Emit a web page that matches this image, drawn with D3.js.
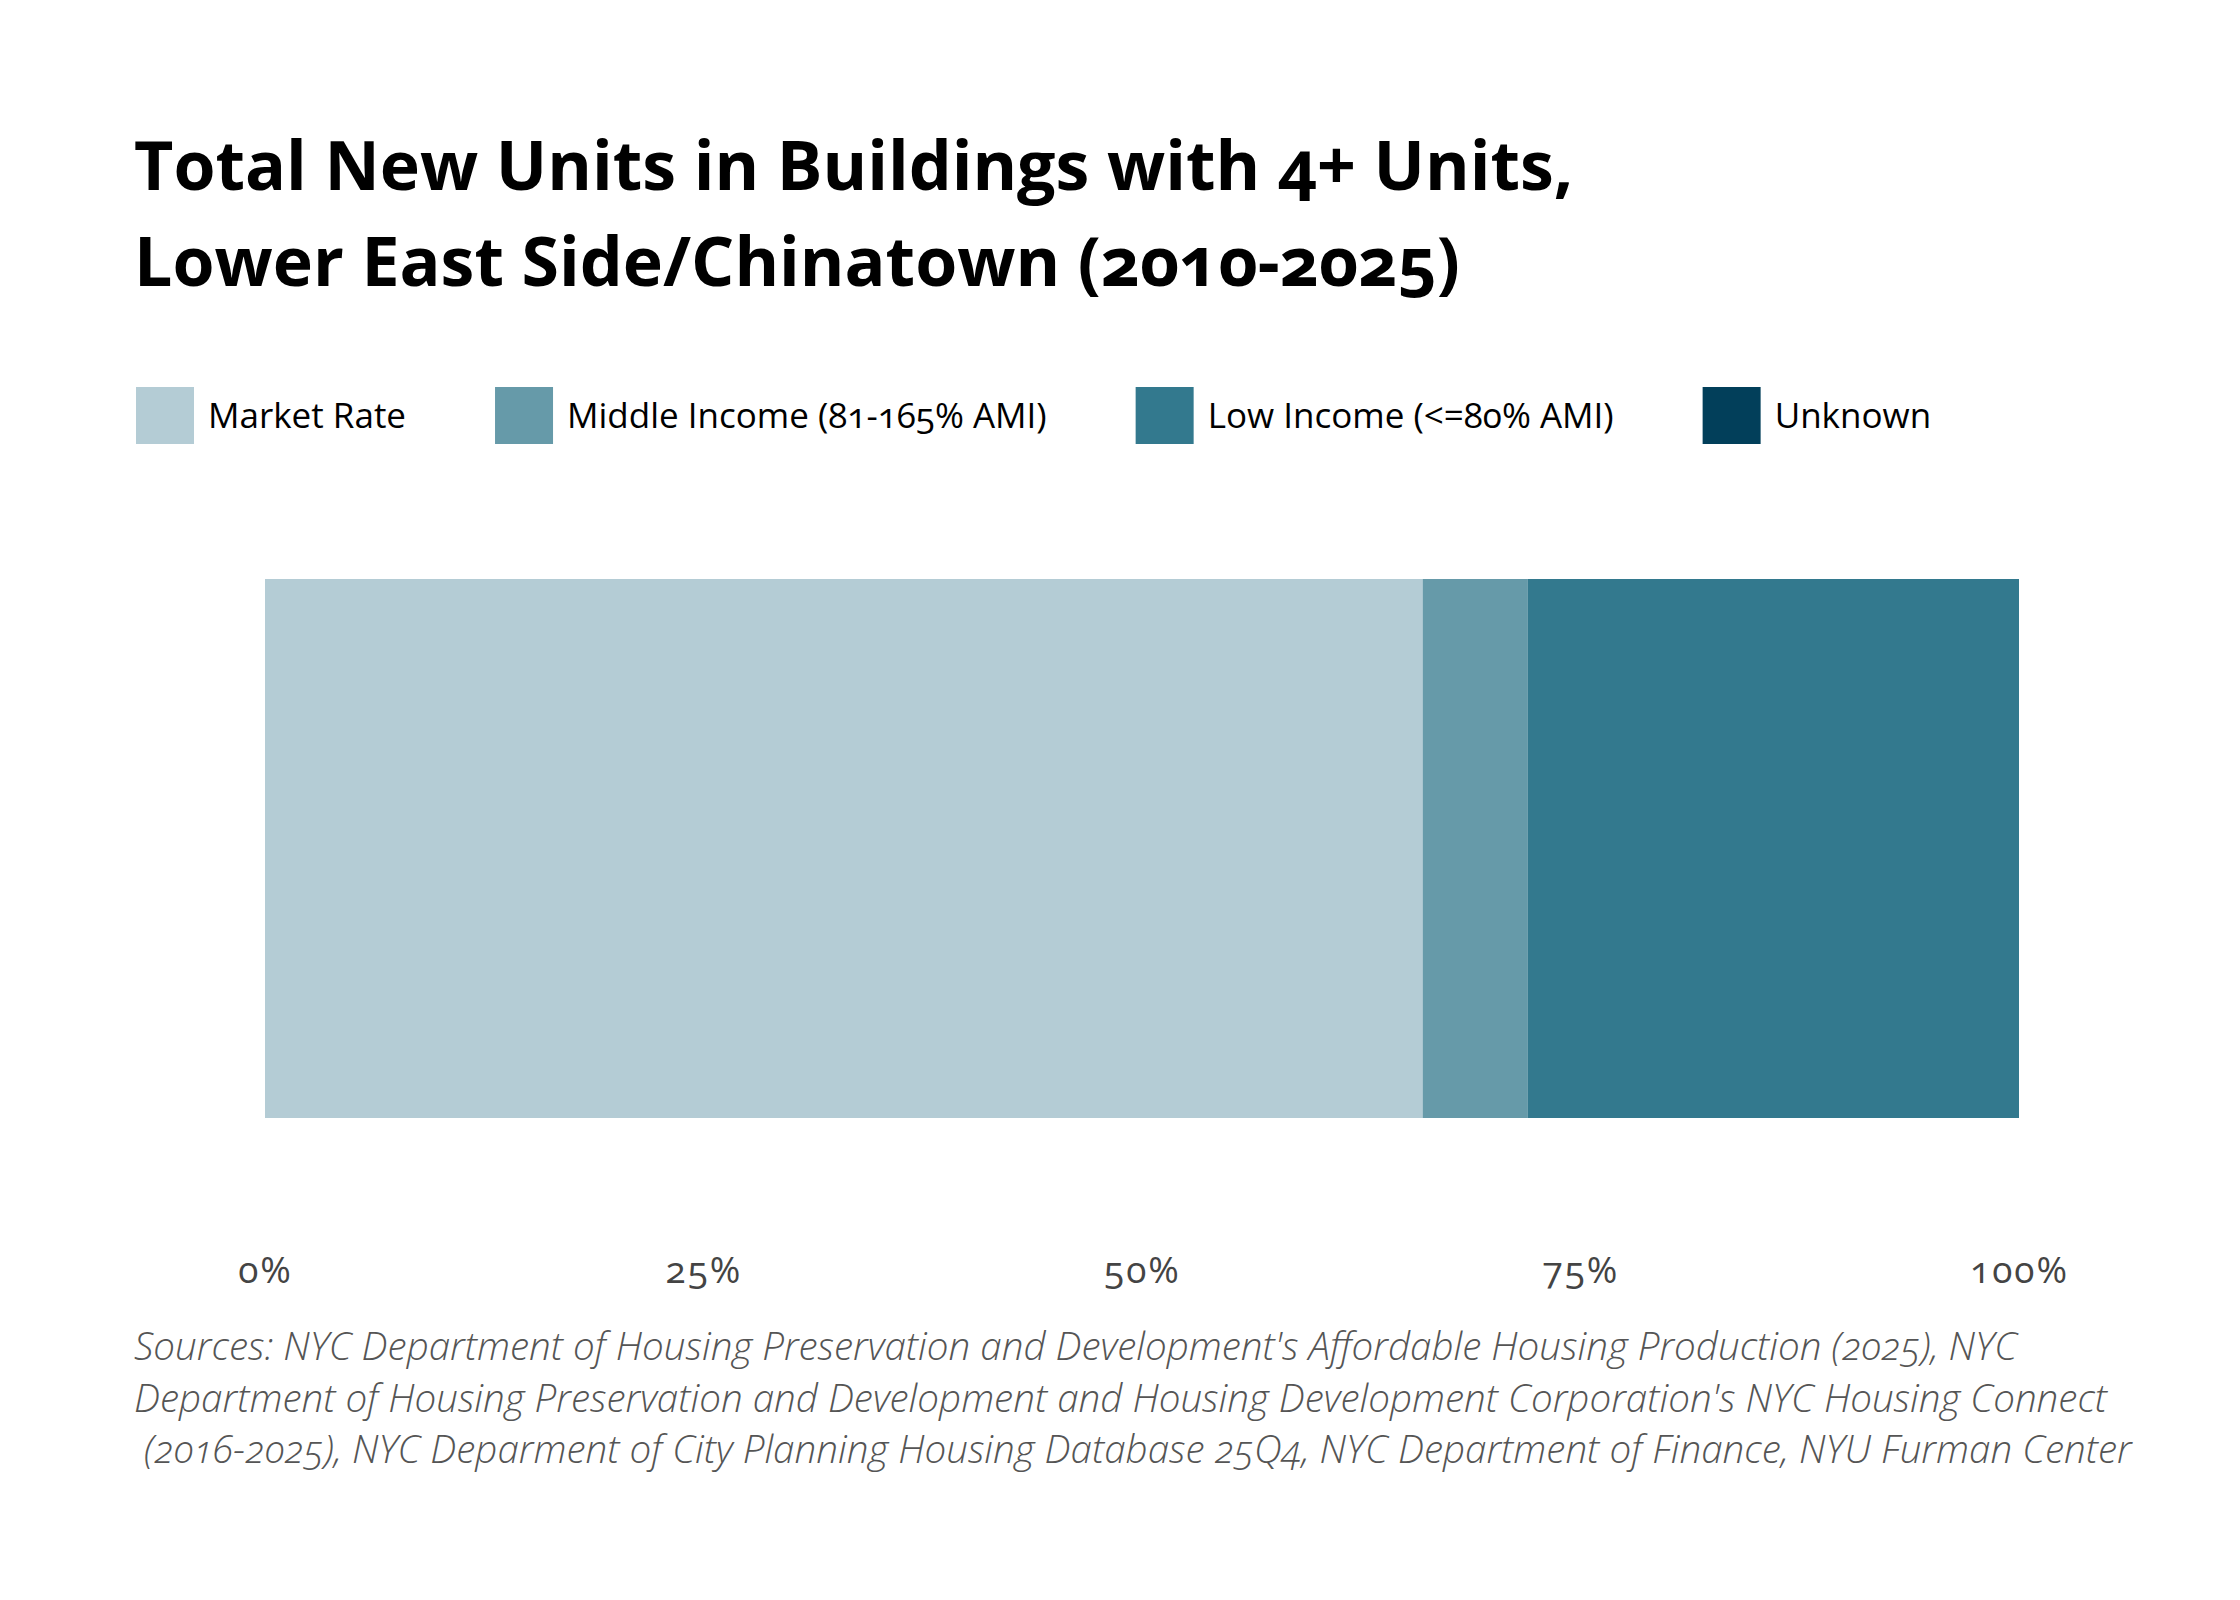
<!DOCTYPE html>
<meta charset="utf-8">
<title>Total New Units in Buildings with 4+ Units, Lower East Side/Chinatown</title>
<style>
    body { margin: 0; background: #fff; }
    svg text { font-family: "Open Sans", sans-serif; font-variant-numeric: oldstyle-nums; }
</style>

<script src="https://d3js.org/d3.v7.js"></script>

<svg id="chart" width="2240" height="1600"></svg>

<script>
    // Data
    const categories = ["Market Rate", "Middle Income (81-165% AMI)", "Low Income (<=80% AMI)", "Unknown"];
    const shares = [0.66, 0.06, 0.28, 0.0];
    const colors = ["#b4ccd5", "#669aa9", "#33798e", "#023f5a"];
    const tickValues = [0, 0.25, 0.5, 0.75, 1];
    const titleLines = ["Total New Units in Buildings with 4+ Units,", "Lower East Side/Chinatown (2010-2025)"];
    const sourceLines = [
        "Sources: NYC Department of Housing Preservation and Development's Affordable Housing Production (2025), NYC",
        "Department of Housing Preservation and Development and Housing Development Corporation's NYC Housing Connect",
        " (2016-2025), NYC Deparment of City Planning Housing Database 25Q4, NYC Department of Finance, NYU Furman Center"
    ];

    const svg = d3.select("#chart");

    // Title
    svg.append("g")
        .selectAll("text")
        .data(titleLines)
        .join("text")
        .attr("x", 134)
        .attr("y", (d, i) => 190 + i * 96)
        .style("font-size", "68px")
        .style("font-weight", 700)
        .attr("fill", "#000")
        .text(d => d);

    // Legend
    const color = d3.scaleOrdinal().domain(categories).range(colors);
    const legend = svg.append("g").attr("transform", "translate(136,387)");
    let lx = 0;
    categories.forEach(c => {
        const item = legend.append("g").attr("transform", `translate(${lx},0)`);
        item.append("rect")
            .attr("width", 58)
            .attr("height", 57)
            .attr("fill", color(c));
        const t = item.append("text")
            .attr("x", 72)
            .attr("y", 41)
            .style("font-size", "35px")
            .attr("fill", "#000")
            .text(c);
        lx += 72 + t.node().getComputedTextLength() + 89;
    });

    // Stacked bar
    const row = {};
    categories.forEach((c, i) => row[c] = shares[i]);
    const series = d3.stack().keys(categories)([row]);

    const x = d3.scaleLinear().domain([0, 1]).range([265, 2019]);
    const y = d3.scaleBand().domain(["Lower East Side/Chinatown"]).range([579, 1118]).padding(0);

    svg.append("g")
        .selectAll("rect")
        .data(series)
        .join("rect")
        .attr("x", d => x(d[0][0]))
        .attr("y", y("Lower East Side/Chinatown"))
        .attr("width", d => x(d[0][1]) - x(d[0][0]))
        .attr("height", y.bandwidth())
        .attr("fill", d => color(d.key));

    // Axis
    const axis = svg.append("g")
        .attr("transform", "translate(0,1283)")
        .call(d3.axisBottom(x).tickValues(tickValues).tickFormat(d3.format(".0%")).tickSize(0));
    axis.select(".domain").remove();
    axis.selectAll("text")
        .attr("y", 0)
        .attr("dy", 0)
        .style("font-size", "37px")
        .style("letter-spacing", "2px")
        .style("font-family", "'Open Sans', sans-serif")
        .attr("fill", "#444");

    // Sources
    svg.append("g")
        .selectAll("text")
        .data(sourceLines)
        .join("text")
        .attr("x", 134)
        .attr("y", (d, i) => 1360 + i * 51.5)
        .attr("xml:space", "preserve")
        .style("white-space", "pre")
        .style("font-size", "38.6px")
        .style("font-style", "italic")
        .style("font-weight", 300)
        .attr("fill", "#555")
        .text(d => d);
</script>
